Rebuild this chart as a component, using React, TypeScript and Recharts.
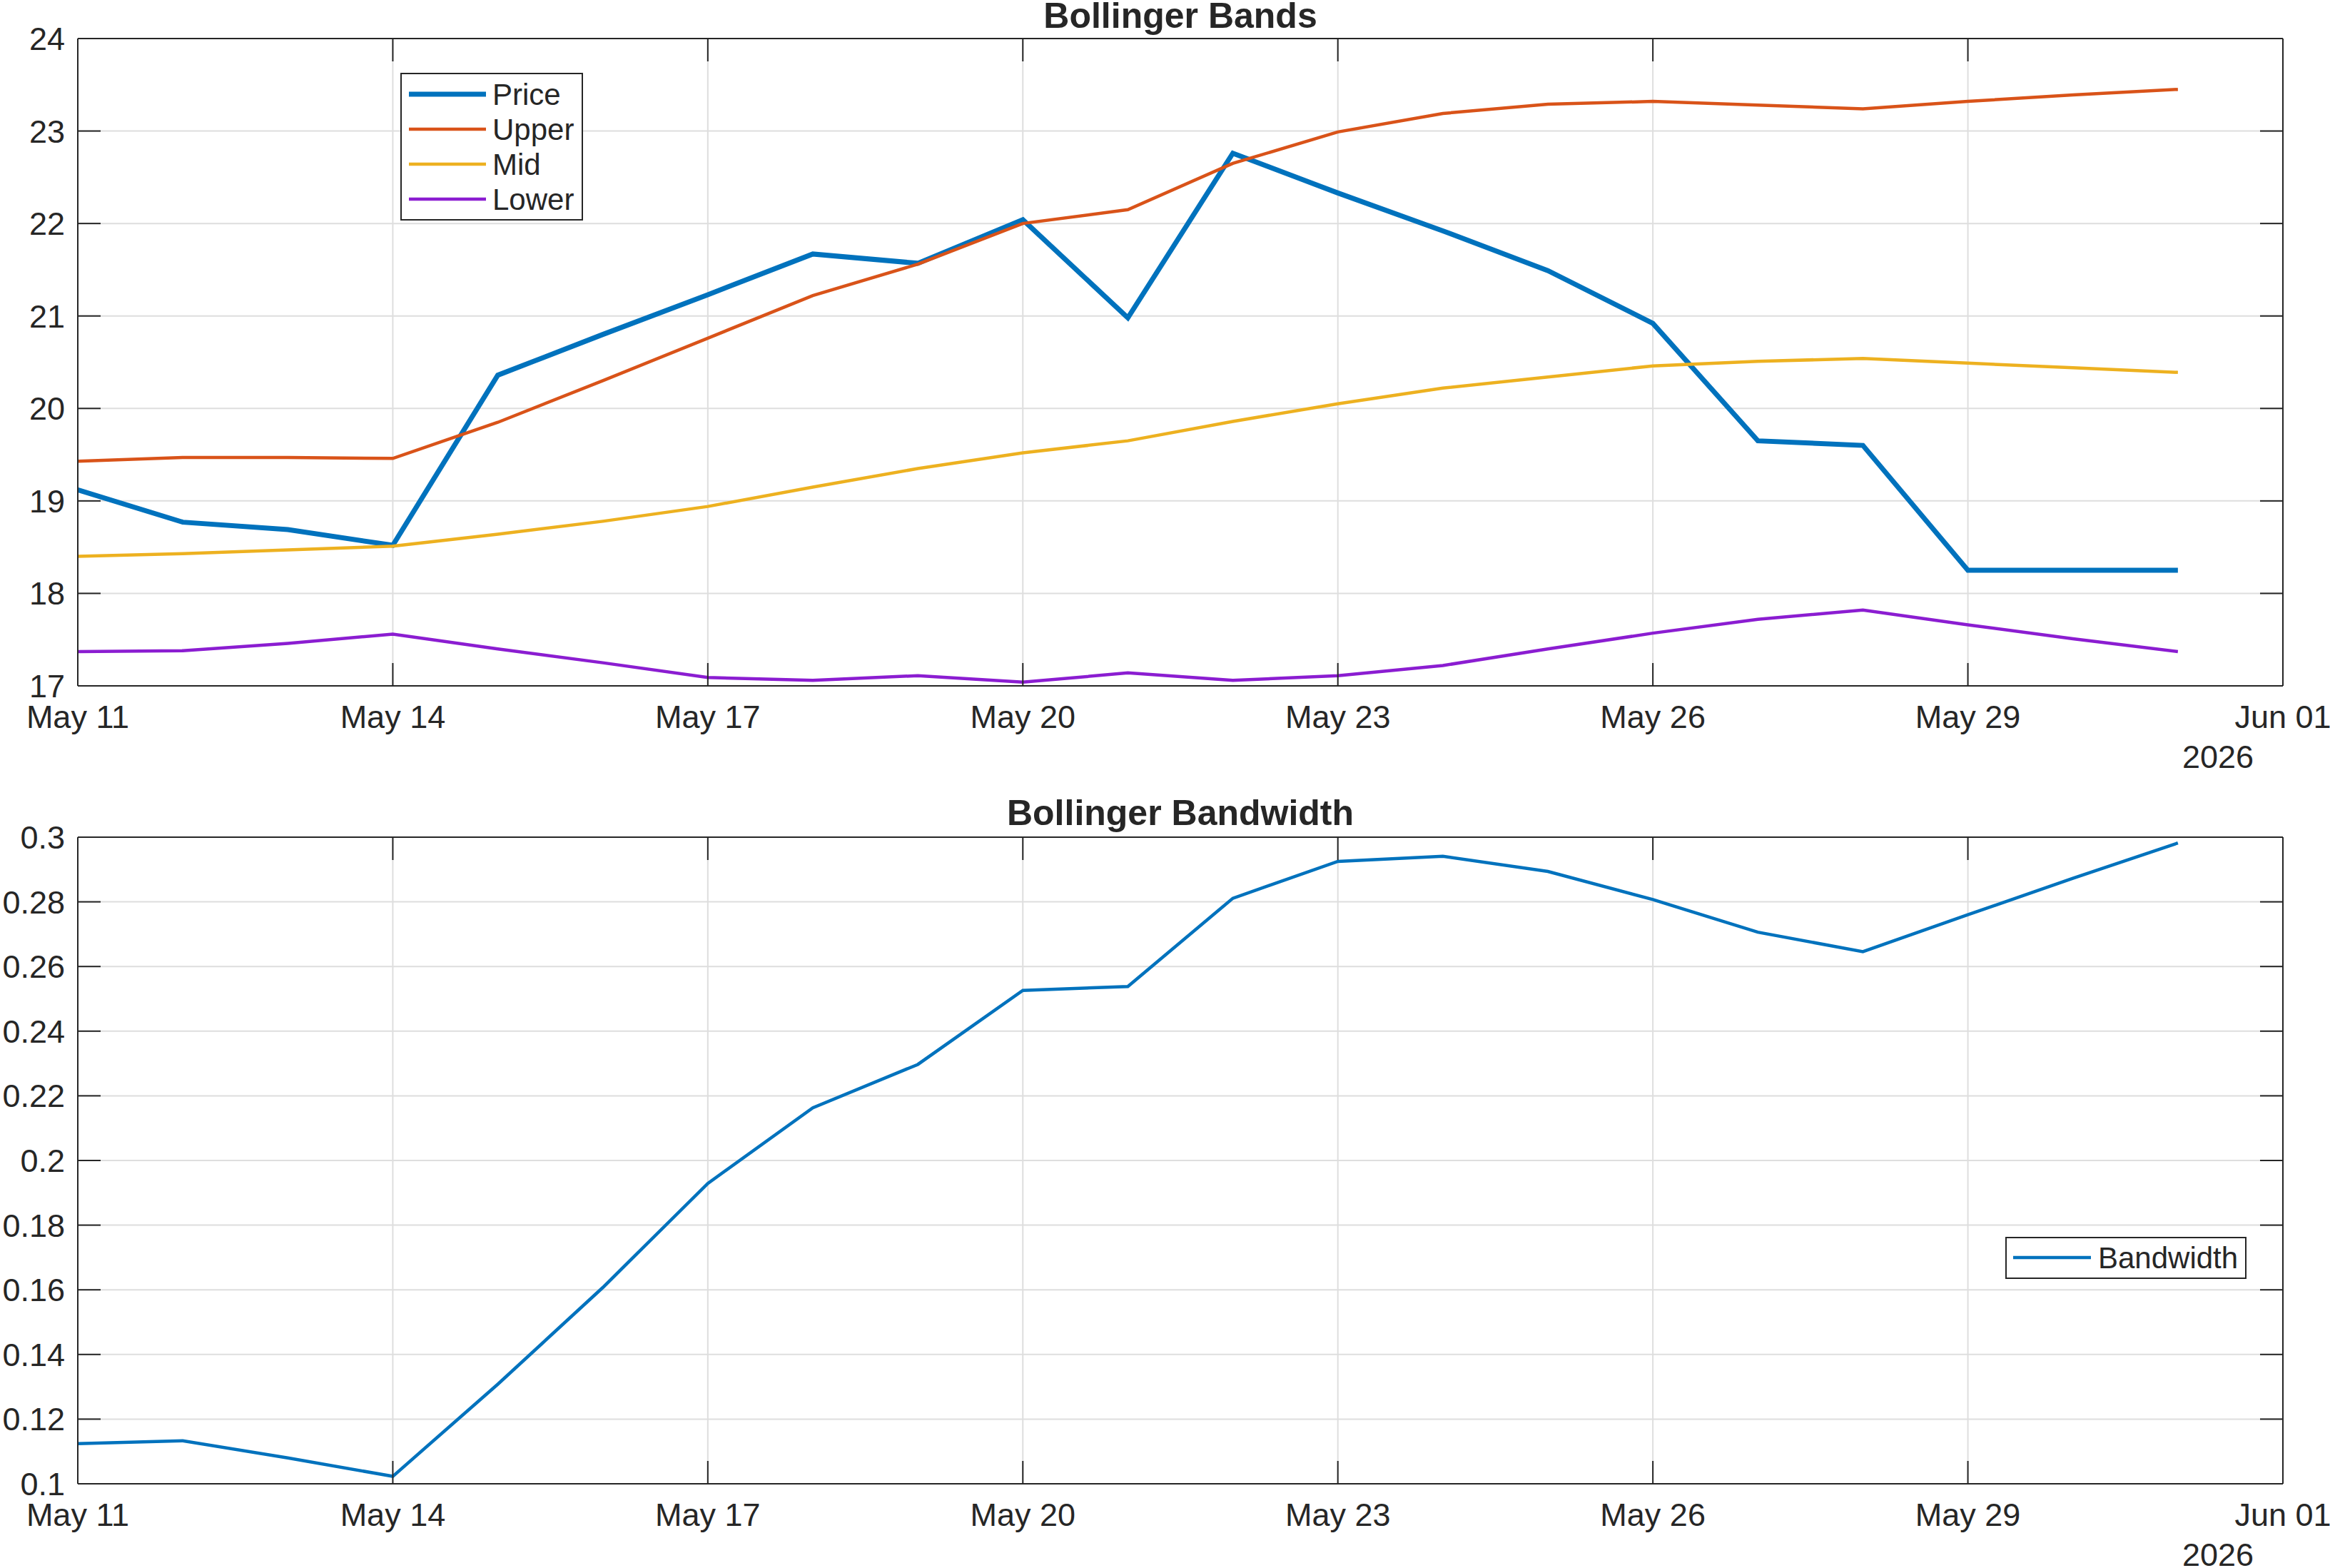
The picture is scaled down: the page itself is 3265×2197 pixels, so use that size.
import { LineChart, Line, XAxis, YAxis, CartesianGrid, Legend } from 'recharts'

const DAYS = [
  'May 11', 'May 12', 'May 13', 'May 14', 'May 15', 'May 16', 'May 17',
  'May 18', 'May 19', 'May 20', 'May 21', 'May 22', 'May 23', 'May 24',
  'May 25', 'May 26', 'May 27', 'May 28', 'May 29', 'May 30', 'May 31',
]
const PRICE = [19.12, 18.77, 18.69, 18.52, 20.36, 20.80, 21.23, 21.67, 21.57, 22.04, 20.98, 22.76, 22.33, 21.92, 21.49, 20.92, 19.65, 19.60, 18.25, 18.25, 18.25]
const UPPER = [19.43, 19.47, 19.47, 19.46, 19.85, 20.30, 20.76, 21.22, 21.56, 22.00, 22.15, 22.65, 22.99, 23.19, 23.29, 23.32, 23.28, 23.24, 23.32, 23.39, 23.45]
const MID = [18.40, 18.43, 18.47, 18.51, 18.64, 18.78, 18.94, 19.15, 19.35, 19.52, 19.65, 19.86, 20.05, 20.22, 20.34, 20.46, 20.51, 20.54, 20.49, 20.44, 20.39]
const LOWER = [17.37, 17.38, 17.46, 17.56, 17.40, 17.25, 17.09, 17.06, 17.11, 17.04, 17.14, 17.06, 17.11, 17.22, 17.40, 17.57, 17.72, 17.82, 17.66, 17.51, 17.37]
const BANDWIDTH = [0.1124, 0.1133, 0.108, 0.1023, 0.1308, 0.1607, 0.1929, 0.2163, 0.2297, 0.2526, 0.2538, 0.2811, 0.2925, 0.2941, 0.2894, 0.2807, 0.2706, 0.2646, 0.276, 0.2873, 0.2982]

const SERIES_ORDER = ['Price', 'Upper', 'Mid', 'Lower', 'Bandwidth']
const X_TICKS = [0, 3, 6, 9, 12, 15, 18, 21]
const X_TICK_LABELS = ['May 11', 'May 14', 'May 17', 'May 20', 'May 23', 'May 26', 'May 29', 'Jun 01']
const YEAR_LABEL = '2026'
const BAND_TICKS = [17, 18, 19, 20, 21, 22, 23, 24]
const BW_TICKS = [0.1, 0.12, 0.14, 0.16, 0.18, 0.2, 0.22, 0.24, 0.26, 0.28, 0.3]

const bandRows = DAYS.map((d, i) => ({ day: i, label: d, price: PRICE[i], upper: UPPER[i], mid: MID[i], lower: LOWER[i] }))
const bwRows = DAYS.map((d, i) => ({ day: i, label: d, bw: BANDWIDTH[i] }))

const FONT = '"Liberation Sans", Arial, Helvetica, sans-serif'
const INK = '#262626'
const GRID = '#dedede'
const TICK_LEN = 32
const W = 3265

const BottomTick = (props: any) => {
  const { x, y, payload } = props
  const i = X_TICKS.indexOf(payload.value)
  return (
    <g>
      <line x1={x} x2={x} y1={y} y2={y - TICK_LEN} stroke={INK} strokeWidth={2} />
      <text x={x} y={y + 59} textAnchor="middle" fontSize={45} fontFamily={FONT} fill={INK}>{X_TICK_LABELS[i]}</text>
      {i === X_TICKS.length - 1 && (
        <text x={x - 41} y={y + 115} textAnchor="end" fontSize={45} fontFamily={FONT} fill={INK}>{YEAR_LABEL}</text>
      )}
    </g>
  )
}

const TopTick = (props: any) => {
  const { x, y } = props
  return <line x1={x} x2={x} y1={y} y2={y + TICK_LEN} stroke={INK} strokeWidth={2} />
}

const LeftTick = (props: any) => {
  const { x, y, payload } = props
  return (
    <g>
      <line x1={x} x2={x + TICK_LEN} y1={y} y2={y} stroke={INK} strokeWidth={2} />
      <text x={x - 18} y={y + 16} textAnchor="end" fontSize={45} fontFamily={FONT} fill={INK}>{String(payload.value)}</text>
    </g>
  )
}

const RightTick = (props: any) => {
  const { x, y } = props
  return <line x1={x} x2={x - TICK_LEN} y1={y} y2={y} stroke={INK} strokeWidth={2} />
}

// boxed legend: line sample on the left, name on the right, in plotting order
const boxLegend = (w: number, h: number, firstY: number, step: number, lineX: number, lineLen: number, textX: number) =>
  (props: any) => {
    const items = [...((props.payload || []) as any[])].sort(
      (a, b) => SERIES_ORDER.indexOf(a.value) - SERIES_ORDER.indexOf(b.value))
    return (
      <svg width={w} height={h} style={{ display: 'block' }}>
        <rect x={1} y={1} width={w - 2} height={h - 2} fill="#fff" stroke={INK} strokeWidth={2} />
        {items.map((it, k) => {
          const cy = firstY + k * step
          const sw = it.payload?.strokeWidth ?? 4.5
          return (
            <g key={it.value}>
              <line x1={lineX} x2={lineX + lineLen} y1={cy} y2={cy} stroke={it.color} strokeWidth={sw} />
              <text x={textX} y={cy + 15} fontSize={42} fontFamily={FONT} fill={INK}>{it.value}</text>
            </g>
          )
        })}
      </svg>
    )
  }

export default function App() {
  const axisLine = { stroke: INK, strokeWidth: 2 }
  return (
    <div style={{ position: 'absolute', left: 0, top: 0, width: W, height: 2197, background: '#fff', fontFamily: FONT }}>
      <svg width={W} height={2197} style={{ position: 'absolute', left: 0, top: 0 }}>
        <text x={1654} y={39} textAnchor="middle" fontSize={50} fontWeight="bold" fontFamily={FONT} fill={INK}>Bollinger Bands</text>
        <text x={1654} y={1156} textAnchor="middle" fontSize={50} fontWeight="bold" fontFamily={FONT} fill={INK}>Bollinger Bandwidth</text>
      </svg>

      <div style={{ position: 'absolute', left: 0, top: 0 }}>
        <LineChart width={W} height={1100} data={bandRows} margin={{ top: 0, right: 0, bottom: 0, left: 0 }}>
          <CartesianGrid xAxisId="b" yAxisId="l" stroke={GRID} strokeWidth={2} horizontalValues={BAND_TICKS} verticalValues={X_TICKS} />
          <XAxis xAxisId="b" dataKey="day" type="number" domain={[0, 21]} ticks={X_TICKS} interval={0} allowDataOverflow
            height={139} tickSize={0} tickMargin={0} tickLine={false} axisLine={axisLine} tick={<BottomTick />} />
          <XAxis xAxisId="t" orientation="top" dataKey="day" type="number" domain={[0, 21]} ticks={X_TICKS} interval={0} allowDataOverflow
            height={54} tickSize={0} tickMargin={0} tickLine={false} axisLine={axisLine} tick={<TopTick />} />
          <YAxis yAxisId="l" type="number" domain={[17, 24]} ticks={BAND_TICKS} interval={0} allowDataOverflow
            width={109} tickSize={0} tickMargin={0} tickLine={false} axisLine={axisLine} tick={<LeftTick />} />
          <YAxis yAxisId="r" orientation="right" type="number" domain={[17, 24]} ticks={BAND_TICKS} interval={0} allowDataOverflow
            width={66} tickSize={0} tickMargin={0} tickLine={false} axisLine={axisLine} tick={<RightTick />} />
          <Line xAxisId="b" yAxisId="l" type="linear" dataKey="price" name="Price" stroke="#0072BD" strokeWidth={7} dot={false} isAnimationActive={false} />
          <Line xAxisId="b" yAxisId="l" type="linear" dataKey="upper" name="Upper" stroke="#D95319" strokeWidth={4.5} dot={false} isAnimationActive={false} />
          <Line xAxisId="b" yAxisId="l" type="linear" dataKey="mid" name="Mid" stroke="#EDB120" strokeWidth={4.5} dot={false} isAnimationActive={false} />
          <Line xAxisId="b" yAxisId="l" type="linear" dataKey="lower" name="Lower" stroke="#8B1DD1" strokeWidth={4.5} dot={false} isAnimationActive={false} />
          <Legend layout="vertical" align="center" verticalAlign="middle"
            wrapperStyle={{ left: 561, top: 102, width: 256, height: 207 }}
            content={boxLegend(256, 207, 30, 49, 12, 108, 129)} />
        </LineChart>
      </div>

      <div style={{ position: 'absolute', left: 0, top: 1100 }}>
        <LineChart width={W} height={1097} data={bwRows} margin={{ top: 0, right: 0, bottom: 0, left: 0 }}>
          <CartesianGrid xAxisId="b" yAxisId="l" stroke={GRID} strokeWidth={2} horizontalValues={BW_TICKS} verticalValues={X_TICKS} />
          <XAxis xAxisId="b" dataKey="day" type="number" domain={[0, 21]} ticks={X_TICKS} interval={0} allowDataOverflow
            height={118} tickSize={0} tickMargin={0} tickLine={false} axisLine={axisLine} tick={<BottomTick />} />
          <XAxis xAxisId="t" orientation="top" dataKey="day" type="number" domain={[0, 21]} ticks={X_TICKS} interval={0} allowDataOverflow
            height={73} tickSize={0} tickMargin={0} tickLine={false} axisLine={axisLine} tick={<TopTick />} />
          <YAxis yAxisId="l" type="number" domain={[0.1, 0.3]} ticks={BW_TICKS} interval={0} allowDataOverflow
            width={109} tickSize={0} tickMargin={0} tickLine={false} axisLine={axisLine} tick={<LeftTick />} />
          <YAxis yAxisId="r" orientation="right" type="number" domain={[0.1, 0.3]} ticks={BW_TICKS} interval={0} allowDataOverflow
            width={66} tickSize={0} tickMargin={0} tickLine={false} axisLine={axisLine} tick={<RightTick />} />
          <Line xAxisId="b" yAxisId="l" type="linear" dataKey="bw" name="Bandwidth" stroke="#0072BD" strokeWidth={4.5} dot={false} isAnimationActive={false} />
          <Legend layout="vertical" align="center" verticalAlign="middle"
            wrapperStyle={{ left: 2810, top: 633, width: 338, height: 59 }}
            content={boxLegend(338, 59, 29, 49, 11, 109, 130)} />
        </LineChart>
      </div>
    </div>
  )
}
